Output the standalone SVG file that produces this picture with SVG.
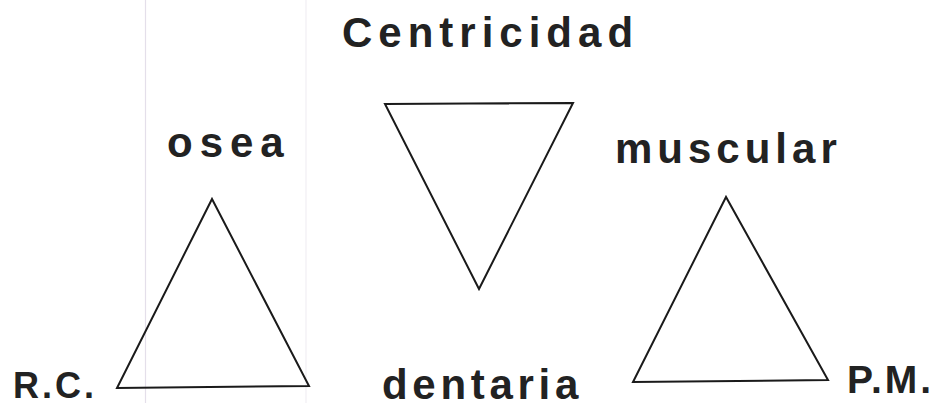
<svg xmlns="http://www.w3.org/2000/svg" width="937" height="403" viewBox="0 0 937 403">
<style>
.t{font-family:"Liberation Sans",Arial,sans-serif;font-weight:bold;fill:#222}
.tri{fill:none;stroke:#1a1a1a;stroke-width:2;stroke-linejoin:miter}
.scan{stroke:#e4dfea;stroke-width:1.2}
</style>
<rect width="937" height="403" fill="#ffffff"/>
<g id="scan-lines">
<line class="scan" x1="145.5" y1="0" x2="145.5" y2="403"/>
<line class="scan" x1="306" y1="0" x2="306" y2="403" stroke-opacity="0.5"/>
</g>
<g id="title"><text class="t" x="342" y="47" font-size="42" letter-spacing="6">Centricidad</text></g>
<g id="osea">
<polygon class="tri" points="212,199 117,388 309,386"/>
<text class="t" x="167" y="157" font-size="42" letter-spacing="7">osea</text>
</g>
<g id="centro">
<polygon class="tri" points="385,104 573,103 479,289"/>
</g>
<g id="muscular">
<polygon class="tri" points="726,197 633,382 828,380"/>
<text class="t" x="615" y="163" font-size="42" letter-spacing="5">muscular</text>
</g>
<g id="dentaria"><text class="t" x="382" y="399" font-size="42" letter-spacing="4.7">dentaria</text></g>
<g id="rc"><text class="t" x="13" y="398" font-size="36" letter-spacing="3">R.C.</text></g>
<g id="pm"><text class="t" x="847" y="393" font-size="39" letter-spacing="3">P.M.</text></g>
<g id="connectors"></g>
</svg>
